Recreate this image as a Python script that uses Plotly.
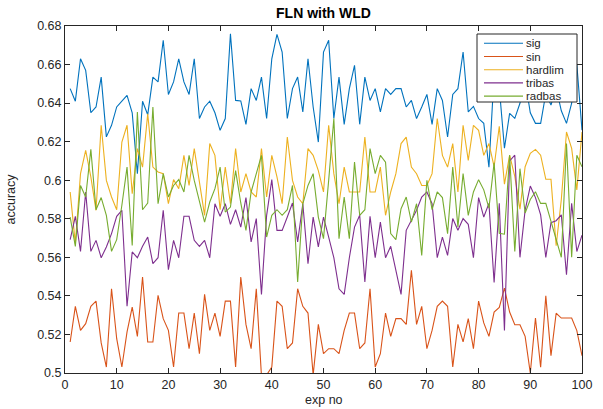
import plotly.graph_objects as go

# Accuracy of each activation function over 100 experiment runs
exp_no = list(range(1, 101))

sig = [0.6475, 0.641, 0.663, 0.657, 0.635, 0.638, 0.6535, 0.6225, 0.6285, 0.638,
       0.641, 0.644, 0.635, 0.6034, 0.641, 0.634, 0.6535, 0.651, 0.6726, 0.6445,
       0.651, 0.663, 0.651, 0.6445, 0.663, 0.632, 0.638, 0.641, 0.635, 0.6259,
       0.632, 0.676, 0.6414, 0.6411, 0.629, 0.6475, 0.6414, 0.6535, 0.632, 0.663,
       0.6757, 0.6665, 0.632, 0.6475, 0.6535, 0.6354, 0.663, 0.638, 0.6198, 0.6665,
       0.6726, 0.632, 0.6535, 0.629, 0.6475, 0.6596, 0.629, 0.6535, 0.6414, 0.6475,
       0.6354, 0.6475, 0.6445, 0.6475, 0.6475, 0.638, 0.6414, 0.632, 0.638, 0.6445,
       0.629, 0.6475, 0.6414, 0.6224, 0.6445, 0.6475, 0.6665, 0.6354, 0.6383, 0.632,
       0.6295, 0.6067, 0.655, 0.648, 0.6166, 0.6347, 0.6321, 0.6399, 0.652, 0.635,
       0.6295, 0.6295, 0.645, 0.639, 0.648, 0.636, 0.6295, 0.640, 0.660, 0.626]

sin = [0.5161, 0.5346, 0.5221, 0.5256, 0.5346, 0.5373, 0.5156, 0.5031, 0.5437, 0.5178,
       0.5031, 0.5213, 0.5342, 0.519, 0.5498, 0.5161, 0.5161, 0.5403, 0.5282, 0.5221,
       0.5031, 0.5311, 0.5311, 0.5126, 0.5311, 0.51, 0.5408, 0.5221, 0.5311, 0.519,
       0.5373, 0.5373, 0.5031, 0.5498, 0.5252, 0.5126, 0.5437, 0.4985, 0.499, 0.5031,
       0.5373, 0.5346, 0.5126, 0.5156, 0.5437, 0.5346, 0.5311, 0.499, 0.5252, 0.51,
       0.5126, 0.5126, 0.51, 0.5221, 0.5311, 0.5311, 0.5126, 0.5156, 0.5437, 0.5031,
       0.51, 0.5311, 0.519, 0.5282, 0.5282, 0.5252, 0.5533, 0.5252, 0.5346, 0.5126,
       0.5221, 0.5346, 0.5373, 0.5346, 0.5031, 0.5252, 0.5161, 0.5282, 0.5126, 0.5373,
       0.526, 0.519, 0.5316, 0.534, 0.544, 0.5316, 0.525, 0.525, 0.519, 0.500,
       0.5285, 0.503, 0.540, 0.509, 0.531, 0.5285, 0.5285, 0.5285, 0.522, 0.509]

hardlim = [0.5939, 0.5671, 0.6034, 0.6155, 0.6017, 0.5844, 0.6285, 0.5999, 0.5913, 0.5847,
           0.6198, 0.6285, 0.593, 0.6164, 0.6068, 0.6345, 0.6068, 0.6043, 0.6034, 0.5878,
           0.6003, 0.5956, 0.6129, 0.5973, 0.6164, 0.5999, 0.5818, 0.619, 0.6129, 0.5847,
           0.6068, 0.5878, 0.6164, 0.5939, 0.6034, 0.5939, 0.5913, 0.6164, 0.5913, 0.6129,
           0.6017, 0.5878, 0.6224, 0.5999, 0.5913, 0.5878, 0.6164, 0.6129, 0.605, 0.5939,
           0.6285, 0.6034, 0.5878, 0.6068, 0.5939, 0.5939, 0.5939, 0.6224, 0.5939, 0.5939,
           0.6068, 0.5818, 0.5939, 0.6034, 0.619, 0.6224, 0.6068, 0.6034, 0.5973, 0.5973,
           0.6034, 0.632, 0.6129, 0.6068, 0.619, 0.5939, 0.6285, 0.6103, 0.6285, 0.6259,
           0.6129, 0.619, 0.607, 0.628, 0.598, 0.613, 0.602, 0.585, 0.607, 0.614,
           0.616, 0.613, 0.6005, 0.6005, 0.566, 0.59, 0.625, 0.6165, 0.595, 0.625]

tribas = [0.5692, 0.5813, 0.5631, 0.5939, 0.5631, 0.5688, 0.5598, 0.5654, 0.5723, 0.5813,
          0.5844, 0.5346, 0.5628, 0.5598, 0.5657, 0.5705, 0.5567, 0.5598, 0.5844, 0.5536,
          0.5688, 0.5598, 0.5813, 0.5813, 0.5688, 0.5657, 0.5688, 0.5598, 0.5878, 0.5813,
          0.5878, 0.5771, 0.5847, 0.5757, 0.591, 0.568, 0.5801, 0.5408, 0.5818, 0.6003,
          0.574, 0.574, 0.5809, 0.5882, 0.568, 0.5878, 0.5567, 0.5809, 0.5654, 0.5809,
          0.5705, 0.5598, 0.5437, 0.5408, 0.5598, 0.5757, 0.5818, 0.5472, 0.5813, 0.5598,
          0.5783, 0.5598, 0.5657, 0.5533, 0.5408, 0.574, 0.5792, 0.5844, 0.5913, 0.5939,
          0.5878, 0.5598, 0.5705, 0.561, 0.5801, 0.574, 0.5801, 0.5771, 0.5598, 0.591,
          0.5809, 0.588, 0.547, 0.588, 0.522, 0.610, 0.613, 0.560, 0.5845, 0.597,
          0.591, 0.582, 0.560, 0.578, 0.579, 0.582, 0.551, 0.588, 0.563, 0.5715]

radbas = [0.5809, 0.5657, 0.5973, 0.5913, 0.616, 0.5847, 0.591, 0.5818, 0.5631, 0.5692,
          0.587, 0.6068, 0.5662, 0.6354, 0.5847, 0.5882, 0.638, 0.5878, 0.6034, 0.5913,
          0.5973, 0.6003, 0.5939, 0.6129, 0.5999, 0.5896, 0.5783, 0.5887, 0.5956, 0.6068,
          0.5835, 0.5861, 0.605, 0.5882, 0.574, 0.5939, 0.6034, 0.6129, 0.5705, 0.5818,
          0.5847, 0.5818, 0.5847, 0.5973, 0.5472, 0.5878, 0.5973, 0.6034, 0.5809, 0.5697,
          0.5999, 0.632, 0.5697, 0.5913, 0.5697, 0.6094, 0.5818, 0.5847, 0.6164, 0.6034,
          0.6129, 0.6094, 0.5723, 0.5692, 0.5852, 0.5913, 0.5783, 0.5878, 0.561, 0.5999,
          0.5847, 0.5939, 0.591, 0.5723, 0.6068, 0.5757, 0.6034, 0.5818, 0.5939, 0.6003,
          0.595, 0.5855, 0.609, 0.5725, 0.572, 0.613, 0.563, 0.606, 0.583, 0.59,
          0.594, 0.588, 0.588, 0.579, 0.570, 0.560, 0.619, 0.560, 0.613, 0.607]

series_names = ["sig", "sin", "hardlim", "tribas", "radbas"]
series_values = [sig, sin, hardlim, tribas, radbas]
series_colors = ["#0072BD", "#D95319", "#EDB120", "#7E2F8E", "#77AC30"]

x_ticks = list(range(0, 101, 10))
y_ticks = [0.5, 0.52, 0.54, 0.56, 0.58, 0.6, 0.62, 0.64, 0.66, 0.68]
y_tick_labels = ["0.5", "0.52", "0.54", "0.56", "0.58", "0.6", "0.62", "0.64", "0.66", "0.68"]

AXIS = "#262626"
FONT = "Liberation Sans, Arial, Helvetica, sans-serif"
W, H = 603, 409
ML, MR, MT, MB = 65, 21, 26, 36
PW, PH = W - ML - MR, H - MT - MB

fig = go.Figure()
for name, vals, col in zip(series_names, series_values, series_colors):
    fig.add_trace(go.Scatter(x=exp_no, y=vals, mode="lines", name=name,
                             line=dict(color=col, width=1.1), showlegend=False))

axis_common = dict(showline=True, linecolor=AXIS, linewidth=1, mirror="ticks",
                   ticks="inside", ticklen=5, tickcolor=AXIS, tickwidth=1,
                   showgrid=False, zeroline=False, automargin=False,
                   tickfont=dict(family=FONT, size=12.5, color=AXIS))

fig.update_layout(
    width=W, height=H,
    margin=dict(l=ML, r=MR, t=MT, b=MB, autoexpand=False),
    paper_bgcolor="white", plot_bgcolor="white",
    font=dict(family=FONT, color=AXIS),
    title=dict(text="<b>FLN with WLD</b>", x=(ML + PW / 2) / W, xanchor="center",
               y=1 - 13 / H, yanchor="middle", yref="container",
               font=dict(family=FONT, size=14, color="black")),
    xaxis=dict(range=[0, 100], tickvals=x_ticks, **axis_common),
    yaxis=dict(range=[0.5, 0.68], tickvals=y_ticks, ticktext=y_tick_labels, **axis_common),
)

# Axis titles
fig.add_annotation(xref="paper", yref="paper", x=0.5, y=-(400 - (H - MB)) / PH,
                   text="exp no", showarrow=False, xanchor="center", yanchor="middle",
                   font=dict(family=FONT, size=12.5, color=AXIS))
fig.add_annotation(xref="paper", yref="paper", x=-(ML - 10) / PW, y=0.5,
                   text="accuracy", showarrow=False, textangle=-90,
                   xanchor="center", yanchor="middle",
                   font=dict(family=FONT, size=12.5, color=AXIS))

# Legend box in the upper-right corner of the axes
lx0, lx1 = (477 - ML) / PW, (577 - ML) / PW
ly1, ly0 = (H - MB - 34) / PH, (H - MB - 102) / PH
fig.add_shape(type="rect", xref="paper", yref="paper", x0=lx0, x1=lx1, y0=ly0, y1=ly1,
              fillcolor="white", line=dict(color=AXIS, width=1), layer="above")
row_h = 13.2 / PH
first_row = ly1 - 9.3 / PH
for k, (name, col) in enumerate(zip(series_names, series_colors)):
    yy = first_row - k * row_h
    fig.add_shape(type="line", xref="paper", yref="paper",
                  x0=(484 - ML) / PW, x1=(523 - ML) / PW, y0=yy, y1=yy,
                  line=dict(color=col, width=1.1), layer="above")
    fig.add_annotation(xref="paper", yref="paper", x=(525 - ML) / PW, y=yy, text=name,
                       showarrow=False, xanchor="left", yanchor="middle", borderpad=0,
                       font=dict(family=FONT, size=11.5, color=AXIS))

fig.write_html("out.html")
